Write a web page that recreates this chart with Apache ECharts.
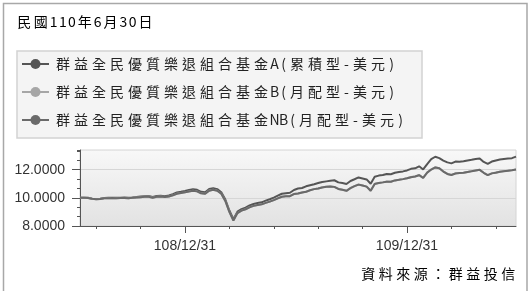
<!DOCTYPE html>
<html>
<head>
<meta charset="utf-8">
<script src="https://cdn.jsdelivr.net/npm/echarts@6/dist/echarts.min.js"></script>
<style>
html,body{margin:0;padding:0;background:#fff;}
#chart{width:532px;height:291px;}
</style>
</head>
<body>
<div id="chart"></div>
<script>
const titleText = '民國110年6月30日';
const sourceText = '資料來源：群益投信';
const seriesNames = [
  '群益全民優質樂退組合基金A(累積型-美元)',
  '群益全民優質樂退組合基金B(月配型-美元)',
  '群益全民優質樂退組合基金NB(月配型-美元)'
];
const seriesColors = ['#555555', '#a6a6a6', '#6a6a6a'];
const xTickLabels = ['108/12/31', '109/12/31'];
const yTickValues = [8, 10, 12];

const categories = [
'108/07/11','108/07/18','108/07/24','108/07/31','108/08/07','108/08/13','108/08/20','108/08/27','108/09/02','108/09/09',
'108/09/16','108/09/22','108/09/29','108/10/05','108/10/12','108/10/19','108/10/25','108/11/01','108/11/08','108/11/14',
'108/11/21','108/11/28','108/12/04','108/12/11','108/12/18','108/12/24','108/12/31',
'109/01/07','109/01/13','109/01/20','109/01/27','109/02/02','109/02/09','109/02/16','109/02/22','109/02/29','109/03/07',
'109/03/13','109/03/20','109/03/27','109/04/02','109/04/09','109/04/15','109/04/22','109/04/29','109/05/05','109/05/12',
'109/05/19','109/05/25','109/06/01','109/06/08','109/06/14','109/06/21','109/06/28','109/07/04','109/07/11','109/07/18',
'109/07/24','109/07/31','109/08/07','109/08/13','109/08/20','109/08/27','109/09/02','109/09/09','109/09/16','109/09/22',
'109/09/29','109/10/06','109/10/12','109/10/19','109/10/25','109/11/01','109/11/08','109/11/14','109/11/21','109/11/28',
'109/12/04','109/12/11','109/12/18','109/12/24','109/12/31',
'110/01/07','110/01/13','110/01/20','110/01/27','110/02/02','110/02/09','110/02/15','110/02/22','110/03/01','110/03/07',
'110/03/14','110/03/21','110/03/27','110/04/03','110/04/10','110/04/16','110/04/23','110/04/29','110/05/06','110/05/13',
'110/05/19','110/05/26','110/06/02','110/06/08','110/06/15','110/06/22','110/06/30'
];

const navA = [
10.00,10.01,10.00,9.94,9.91,9.93,9.99,10.00,10.01,10.00,
10.01,10.02,10.01,10.03,10.06,10.09,10.11,10.13,10.06,10.13,
10.15,10.12,10.17,10.26,10.38,10.43,10.49,10.56,10.61,10.57,
10.43,10.40,10.63,10.69,10.62,10.40,9.88,9.10,8.48,9.02,
9.20,9.31,9.46,9.56,9.63,9.68,9.80,9.90,10.02,10.16,
10.29,10.33,10.36,10.56,10.66,10.70,10.82,10.90,10.97,11.05,
11.12,11.17,11.22,11.25,11.10,11.05,10.98,11.20,11.32,11.45,
11.38,11.31,11.00,11.50,11.58,11.62,11.70,11.68,11.78,11.84,
11.88,11.95,12.06,12.10,12.24,12.02,12.40,12.75,12.92,12.82,
12.65,12.52,12.45,12.58,12.56,12.60,12.66,12.70,12.76,12.80,
12.55,12.42,12.58,12.66,12.72,12.76,12.79,12.82,12.93
];
const navB = [
10.00,10.01,9.99,9.93,9.90,9.92,9.97,9.98,9.99,9.98,
9.99,9.99,9.98,10.00,10.03,10.05,10.07,10.09,10.01,10.08,
10.09,10.06,10.10,10.18,10.30,10.34,10.39,10.46,10.50,10.46,
10.32,10.29,10.52,10.58,10.51,10.29,9.78,9.00,8.39,8.92,
9.09,9.19,9.34,9.43,9.49,9.54,9.64,9.73,9.84,9.97,
10.08,10.11,10.12,10.28,10.31,10.38,10.43,10.55,10.62,10.67,
10.75,10.79,10.80,10.78,10.63,10.57,10.50,10.70,10.83,10.95,
10.88,10.80,10.50,11.00,11.06,11.10,11.16,11.14,11.24,11.29,
11.33,11.39,11.48,11.52,11.62,11.42,11.80,12.02,12.17,12.10,
11.88,11.70,11.63,11.74,11.76,11.79,11.84,11.90,11.95,12.00,
11.78,11.62,11.74,11.80,11.85,11.90,11.93,11.97,12.02
];
const navNB = [
10.00,10.01,9.99,9.93,9.90,9.92,9.97,9.98,9.99,9.98,
9.99,9.99,9.98,10.00,10.02,10.05,10.07,10.08,10.01,10.08,
10.09,10.06,10.10,10.18,10.29,10.34,10.39,10.45,10.50,10.46,
10.32,10.29,10.51,10.58,10.51,10.29,9.78,9.00,8.39,8.92,
9.09,9.19,9.33,9.43,9.49,9.54,9.64,9.73,9.84,9.96,
10.08,10.11,10.12,10.27,10.31,10.38,10.43,10.54,10.62,10.67,
10.74,10.79,10.80,10.78,10.63,10.57,10.50,10.69,10.83,10.94,
10.88,10.80,10.50,10.99,11.06,11.10,11.15,11.14,11.24,11.28,
11.33,11.39,11.47,11.52,11.61,11.42,11.79,12.01,12.16,12.10,
11.87,11.70,11.62,11.73,11.76,11.78,11.84,11.89,11.95,11.99,
11.78,11.61,11.74,11.79,11.85,11.89,11.93,11.96,12.01
];

const CJK = '"Noto Sans CJK TC", "Noto Sans CJK SC", sans-serif';
const NUM = '"Liberation Sans", Arial, sans-serif';

function spaced(str) {
  return str.split('').map(function (ch) {
    return (ch.charCodeAt(0) > 255 ? '{w|' : '{n|') + ch + '}';
  }).join('');
}
function cellStyles(wide, narrow, size, lh) {
  return {
    w: {width: wide, align: 'center', fontSize: size, fontFamily: CJK, color: '#222', lineHeight: lh},
    n: {width: narrow, align: 'center', fontSize: size, fontFamily: CJK, color: '#222', lineHeight: lh}
  };
}

const MINOR_START = 4, MINOR_STEP = 11;

const chart = echarts.init(document.getElementById('chart'), null, {renderer: 'canvas'});
const navs = [navA, navB, navNB];

chart.setOption({
  animation: false,
  backgroundColor: '#ffffff',
  graphic: [
    {type: 'rect', silent: true, z: 0,
     shape: {x: 3.5, y: 3.5, width: 523.5, height: 300},
     style: {fill: 'none', stroke: '#a8a8a8', lineWidth: 1.5}},
    {type: 'text', left: 16, top: 15, silent: true,
     style: {text: spaced(titleText), rich: cellStyles(16.5, 9.2, 14, 16)}},
    {type: 'text', right: 15, top: 267, silent: true,
     style: {text: spaced(sourceText), rich: cellStyles(17.5, 9, 14, 16)}}
  ],
  legend: {
    data: seriesNames,
    orient: 'vertical',
    left: 17, top: 51,
    itemWidth: 27, itemHeight: 12.5,
    itemGap: 14, itemTextGap: 3,
    padding: [6, 17, 11, 4],
    backgroundColor: '#f4f4f4',
    borderColor: '#d2d2d2', borderWidth: 1.5, borderRadius: 0,
    formatter: function (name) { return spaced(name); },
    textStyle: {rich: cellStyles(18, 9, 14, 18)}
  },
  grid: {
    show: true, left: 80, right: 16, top: 150, bottom: 65,
    backgroundColor: new echarts.graphic.LinearGradient(0, 0, 0, 1, [
      {offset: 0, color: '#f8f8f8'}, {offset: 1, color: '#e2e2e2'}
    ]),
    borderColor: '#d4d4d4', borderWidth: 1
  },
  xAxis: [
    {
      type: 'category', data: categories, boundaryGap: false, position: 'bottom',
      axisLine: {lineStyle: {color: '#555', width: 1}},
      axisTick: {interval: function (i, v) { return xTickLabels.indexOf(v) >= 0; }, length: 7, lineStyle: {color: '#555'}},
      axisLabel: {interval: function (i, v) { return xTickLabels.indexOf(v) >= 0; },
        fontSize: 14, fontFamily: NUM, color: '#333', margin: 13},
      splitLine: {show: false}
    },
    {
      type: 'category', data: categories, boundaryGap: false, position: 'bottom',
      axisLine: {show: false},
      axisTick: {interval: function (i) { return (i - MINOR_START) % MINOR_STEP === 0; }, length: 3, lineStyle: {color: '#555'}},
      axisLabel: {show: false}, splitLine: {show: false}
    }
  ],
  yAxis: [
    {
      type: 'value', min: 8, max: 13.4, interval: 2, position: 'left',
      axisLine: {show: true, lineStyle: {color: '#555', width: 1}},
      axisTick: {show: true, length: 8, customValues: yTickValues, lineStyle: {color: '#555'}},
      axisLabel: {customValues: yTickValues,
        formatter: function (v) { return Number(v).toFixed(4); },
        fontSize: 14, fontFamily: NUM, color: '#333', margin: 15},
      splitLine: {lineStyle: {color: '#d6d6d6', width: 1}}
    },
    {
      type: 'value', min: 8, max: 13.4, interval: 2 / 3, position: 'left',
      axisLine: {show: false},
      axisTick: {show: true, length: 3, lineStyle: {color: '#555'}},
      axisLabel: {show: false}, splitLine: {show: false}
    }
  ],
  series: seriesNames.map(function (name, k) {
    return {
      name: name, type: 'line', data: navs[k],
      xAxisIndex: 0, yAxisIndex: 0,
      showSymbol: false, symbol: 'circle', symbolSize: 10,
      color: seriesColors[k],
      lineStyle: {width: 2, color: seriesColors[k]},
      itemStyle: {color: seriesColors[k]},
      z: 3 + k
    };
  })
});
</script>
</body>
</html>
